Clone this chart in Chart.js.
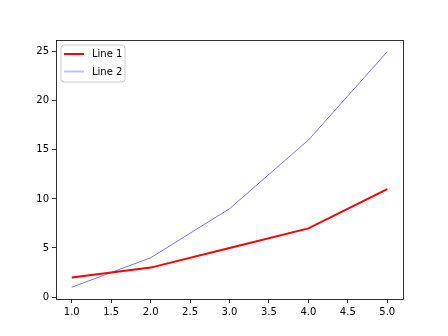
<!DOCTYPE html>
<html>
<head>
<meta charset="utf-8">
<script src="https://cdn.jsdelivr.net/npm/chart.js@4"></script>
<style>
html,body{margin:0;padding:0;background:#fff;}
#wrap{width:448px;height:336px;}
</style>
</head>
<body>
<div id="wrap"><canvas id="c" width="448" height="336"></canvas></div>
<script>
const xValues = [1, 2, 3, 4, 5];
const line1 = [2, 3, 5, 7, 11];
const line2 = [1, 4, 9, 16, 25];
const seriesNames = ['Line 1', 'Line 2'];
const xTicks = [1.0, 1.5, 2.0, 2.5, 3.0, 3.5, 4.0, 4.5, 5.0];
const yTicks = [0, 5, 10, 15, 20, 25];

const FONT = 'DejaVu Sans';
const legendColors = ['#ff0000', 'rgba(0,0,255,0.25)'];

const framePlugin = {
  id: 'frame',
  afterDatasetsDraw(chart) {
    const {ctx, chartArea: a} = chart;
    ctx.save();
    ctx.strokeStyle = '#000';
    ctx.lineWidth = 0.8;
    ctx.strokeRect(Math.round(a.left) + 0.5, Math.round(a.top) + 0.5,
      Math.round(a.right - a.left), Math.round(a.bottom - a.top));
    ctx.restore();
  }
};

const legendPlugin = {
  id: 'mplLegend',
  afterDraw(chart) {
    const {ctx, chartArea: a} = chart;
    const x0 = a.left + 5, y0 = a.top + 5, w = 64, h = 37;
    ctx.save();
    ctx.beginPath();
    const r = 3;
    ctx.moveTo(x0 + r, y0);
    ctx.arcTo(x0 + w, y0, x0 + w, y0 + h, r);
    ctx.arcTo(x0 + w, y0 + h, x0, y0 + h, r);
    ctx.arcTo(x0, y0 + h, x0, y0, r);
    ctx.arcTo(x0, y0, x0 + w, y0, r);
    ctx.closePath();
    ctx.fillStyle = 'rgba(255,255,255,0.8)';
    ctx.fill();
    ctx.strokeStyle = '#cccccc';
    ctx.lineWidth = 1;
    ctx.stroke();
    chart.data.datasets.forEach((ds, i) => {
      const ly = y0 + 9 + i * 17.5;
      ctx.beginPath();
      ctx.moveTo(x0 + 3, ly);
      ctx.lineTo(x0 + 23, ly);
      ctx.strokeStyle = legendColors[i];
      ctx.lineWidth = 2;
      ctx.stroke();
      ctx.fillStyle = '#000';
      ctx.font = '10px "' + FONT + '"';
      ctx.textBaseline = 'middle';
      ctx.textAlign = 'left';
      ctx.fillText(ds.label, x0 + 31, ly + 0.5);
    });
    ctx.restore();
  }
};

const toPts = (ys) => xValues.map((x, i) => ({x: x, y: ys[i]}));

new Chart(document.getElementById('c'), {
  type: 'line',
  data: {
    datasets: [
      {label: seriesNames[0], data: toPts(line1), borderColor: '#ff0000', borderWidth: 2,
       pointRadius: 0, tension: 0, fill: false},
      {label: seriesNames[1], data: toPts(line2), borderColor: 'rgba(0,0,255,0.55)', borderWidth: 1,
       pointRadius: 0, tension: 0, fill: false}
    ]
  },
  options: {
    responsive: false,
    animation: false,
    devicePixelRatio: 1,
    layout: {padding: {left: 0, top: 40, right: 45, bottom: 0}},
    plugins: {legend: {display: false}, tooltip: {enabled: false}},
    scales: {
      x: {
        type: 'linear', min: 0.8, max: 5.2,
        afterBuildTicks(s) { s.ticks = xTicks.map(v => ({value: v})); },
        afterFit(s) { s.height = 37; },
        grid: {display: true, drawOnChartArea: false, drawTicks: true, tickLength: 4, tickColor: '#000', tickWidth: 0.8},
        border: {display: false},
        ticks: {color: '#000', padding: 3, font: {family: FONT, size: 10}, maxRotation: 0, autoSkip: false,
          callback: v => Number(v).toFixed(1)}
      },
      y: {
        type: 'linear', min: -0.2, max: 26.2,
        afterBuildTicks(s) { s.ticks = yTicks.map(v => ({value: v})); },
        afterFit(s) { s.width = 56; },
        grid: {display: true, drawOnChartArea: false, drawTicks: true, tickLength: 4, tickColor: '#000', tickWidth: 0.8},
        border: {display: false},
        ticks: {color: '#000', padding: 3, font: {family: FONT, size: 10}, autoSkip: false,
          callback: v => String(v)}
      }
    }
  },
  plugins: [framePlugin, legendPlugin]
});
</script>
</body>
</html>
